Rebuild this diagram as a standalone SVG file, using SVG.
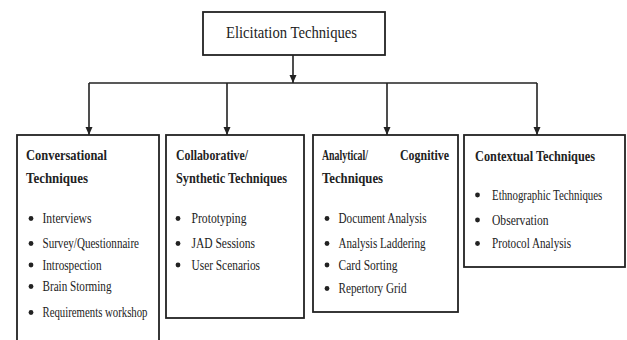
<svg xmlns="http://www.w3.org/2000/svg" width="627" height="340" viewBox="0 0 627 340">
<defs>
<style>
.box{fill:#fff;stroke:#222;stroke-width:1.8}
.ln{fill:none;stroke:#222;stroke-width:1.6}
text{font-family:"Liberation Serif","Times New Roman",serif;fill:#222}
.t{font-size:17px}
.h{font-size:15px;font-weight:bold}
.i{font-size:14.5px}
.b{fill:#222}
</style>
<marker id="arr" markerUnits="userSpaceOnUse" markerWidth="8" markerHeight="9" refX="8" refY="4" orient="auto" viewBox="0 0 8 8">
<path d="M0,0.5 L8,4 L0,7.5 Z" fill="#222"/>
</marker>
</defs>
<rect width="627" height="340" fill="#fff"/>
<g id="connectors">
<line class="ln" x1="293" y1="55" x2="293" y2="83" marker-end="url(#arr)"/>
<line class="ln" x1="89" y1="83" x2="537" y2="83"/>
<line class="ln" x1="89" y1="83" x2="89" y2="135" marker-end="url(#arr)"/>
<line class="ln" x1="227" y1="83" x2="227" y2="135" marker-end="url(#arr)"/>
<line class="ln" x1="387" y1="83" x2="387" y2="135" marker-end="url(#arr)"/>
<line class="ln" x1="537" y1="83" x2="537" y2="135" marker-end="url(#arr)"/>
</g>
<g id="root">
<rect class="box" x="203" y="12" width="182" height="43"/>
<text class="t" x="226" y="38" textLength="131" lengthAdjust="spacingAndGlyphs">Elicitation Techniques</text>
</g>
<g id="conversational">
<rect class="box" x="17" y="135" width="142" height="210"/>
<text class="h" x="26" y="159.5" textLength="81" lengthAdjust="spacingAndGlyphs">Conversational</text>
<text class="h" x="26" y="182.5" textLength="62" lengthAdjust="spacingAndGlyphs">Techniques</text>
<circle class="b" cx="31" cy="218.5" r="2.4"/>
<text class="i" x="42.5" y="223" textLength="49" lengthAdjust="spacingAndGlyphs">Interviews</text>
<circle class="b" cx="31" cy="243.5" r="2.4"/>
<text class="i" x="42.5" y="248" textLength="96.5" lengthAdjust="spacingAndGlyphs">Survey/Questionnaire</text>
<circle class="b" cx="31" cy="265" r="2.4"/>
<text class="i" x="42.5" y="269.5" textLength="59" lengthAdjust="spacingAndGlyphs">Introspection</text>
<circle class="b" cx="31" cy="286.5" r="2.4"/>
<text class="i" x="42.5" y="291" textLength="69" lengthAdjust="spacingAndGlyphs">Brain Storming</text>
<circle class="b" cx="31" cy="312.5" r="2.4"/>
<text class="i" x="42.5" y="317" textLength="105" lengthAdjust="spacingAndGlyphs">Requirements workshop</text>
</g>
<g id="collaborative">
<rect class="box" x="166" y="135" width="138" height="183"/>
<text class="h" x="176" y="160" textLength="72" lengthAdjust="spacingAndGlyphs">Collaborative/</text>
<text class="h" x="176" y="182.5" textLength="111" lengthAdjust="spacingAndGlyphs">Synthetic Techniques</text>
<circle class="b" cx="178" cy="218.5" r="2.4"/>
<text class="i" x="191.5" y="223" textLength="55" lengthAdjust="spacingAndGlyphs">Prototyping</text>
<circle class="b" cx="178" cy="243.5" r="2.4"/>
<text class="i" x="191.5" y="248" textLength="63.5" lengthAdjust="spacingAndGlyphs">JAD Sessions</text>
<circle class="b" cx="178" cy="265" r="2.4"/>
<text class="i" x="191.5" y="269.5" textLength="68.5" lengthAdjust="spacingAndGlyphs">User Scenarios</text>
</g>
<g id="analytical">
<rect class="box" x="313" y="135" width="145" height="177"/>
<text class="h" x="322" y="159.5" textLength="46" lengthAdjust="spacingAndGlyphs">Analytical/</text>
<text class="h" x="400" y="159.5" textLength="49" lengthAdjust="spacingAndGlyphs">Cognitive</text>
<text class="h" x="322" y="182.5" textLength="61" lengthAdjust="spacingAndGlyphs">Techniques</text>
<circle class="b" cx="327" cy="218.5" r="2.4"/>
<text class="i" x="338.5" y="223" textLength="88" lengthAdjust="spacingAndGlyphs">Document Analysis</text>
<circle class="b" cx="327" cy="243.5" r="2.4"/>
<text class="i" x="338.5" y="248" textLength="87" lengthAdjust="spacingAndGlyphs">Analysis Laddering</text>
<circle class="b" cx="327" cy="265" r="2.4"/>
<text class="i" x="338.5" y="269.5" textLength="59" lengthAdjust="spacingAndGlyphs">Card Sorting</text>
<circle class="b" cx="327" cy="288.5" r="2.4"/>
<text class="i" x="338.5" y="293" textLength="68" lengthAdjust="spacingAndGlyphs">Repertory Grid</text>
</g>
<g id="contextual">
<rect class="box" x="464" y="135" width="161" height="132"/>
<text class="h" x="475" y="160.5" textLength="120" lengthAdjust="spacingAndGlyphs">Contextual Techniques</text>
<circle class="b" cx="477.5" cy="195" r="2.4"/>
<text class="i" transform="translate(492 199.5) scale(0.75 1)" x="0" y="0">Ethnographic Techniques</text>
<circle class="b" cx="477.5" cy="220" r="2.4"/>
<text class="i" x="492" y="224.5" textLength="56.5" lengthAdjust="spacingAndGlyphs">Observation</text>
<circle class="b" cx="477.5" cy="243.5" r="2.4"/>
<text class="i" x="492" y="248" textLength="79" lengthAdjust="spacingAndGlyphs">Protocol Analysis</text>
</g>
</svg>
